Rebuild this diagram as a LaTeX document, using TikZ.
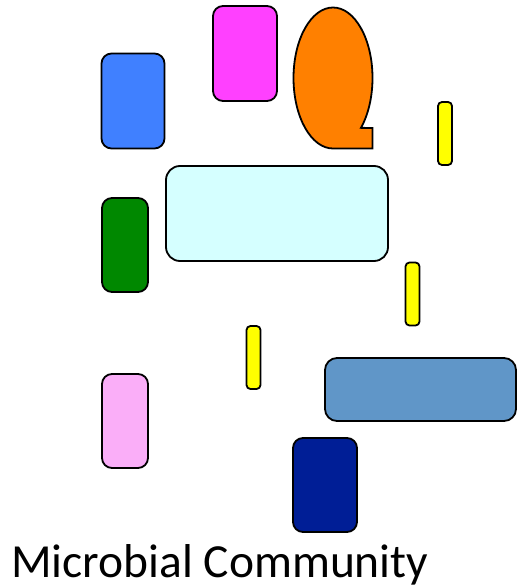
\documentclass[tikz,border=0pt]{standalone}
\usepackage{fontspec}
\setmainfont{Carlito}
\definecolor{cblue}{HTML}{4080FF}
\definecolor{cmag}{HTML}{FF40FF}
\definecolor{corange}{HTML}{FF8000}
\definecolor{cyel}{HTML}{FFFF00}
\definecolor{ccyan}{HTML}{D5FFFF}
\definecolor{cgreen}{HTML}{008800}
\definecolor{csteel}{HTML}{6096C8}
\definecolor{cpink}{HTML}{FAAEF8}
\definecolor{cnavy}{HTML}{001E96}
\begin{document}
\begin{tikzpicture}[x=1pt,y=1pt,
  cell/.style={draw=black, line width=1.8pt, rounded corners=10pt, inner sep=0pt},
  bigcell/.style={cell, rounded corners=14pt},
  rod/.style={draw=black, line width=1.8pt, rounded corners=4pt, inner sep=0pt, fill=cyel, minimum width=14pt, minimum height=63pt}]
\useasboundingbox (0,0) rectangle (517,-588);
\node[cell, fill=cblue, minimum width=63pt, minimum height=95pt] (blue) at (133,-101) {};
\node[cell, fill=cmag, minimum width=64pt, minimum height=95pt] (mag) at (245,-53.5) {};
\node[bigcell, fill=ccyan, minimum width=222pt, minimum height=95pt] (cyan) at (277,-213.5) {};
\node[cell, fill=cgreen, minimum width=46pt, minimum height=94pt] (green) at (125,-245) {};
\node[cell, fill=cpink, minimum width=46pt, minimum height=94pt] (pink) at (125,-421) {};
\node[cell, fill=csteel, rounded corners=12pt, minimum width=191pt, minimum height=63pt] (steel) at (420.5,-389.5) {};
\node[cell, fill=cnavy, minimum width=64pt, minimum height=94pt] (navy) at (325,-485) {};
\node[rod] (y1) at (445,-133.5) {};
\node[rod] (y2) at (412.5,-294) {};
\node[rod] (y3) at (253.5,-357.5) {};
% Q-shaped orange cell
\draw[fill=corange, line width=1.8pt, line join=miter]
  (333,-148.5) arc[start angle=270, end angle=-45, x radius=39.5, y radius=70.5]
  -- (372.5,-128) -- (372.5,-148.5) -- cycle;
\node[anchor=base west, inner sep=0pt, font=\fontsize{47.5}{50}\selectfont] (label) at (11,-577) {Microbial Community};
\end{tikzpicture}
\end{document}
